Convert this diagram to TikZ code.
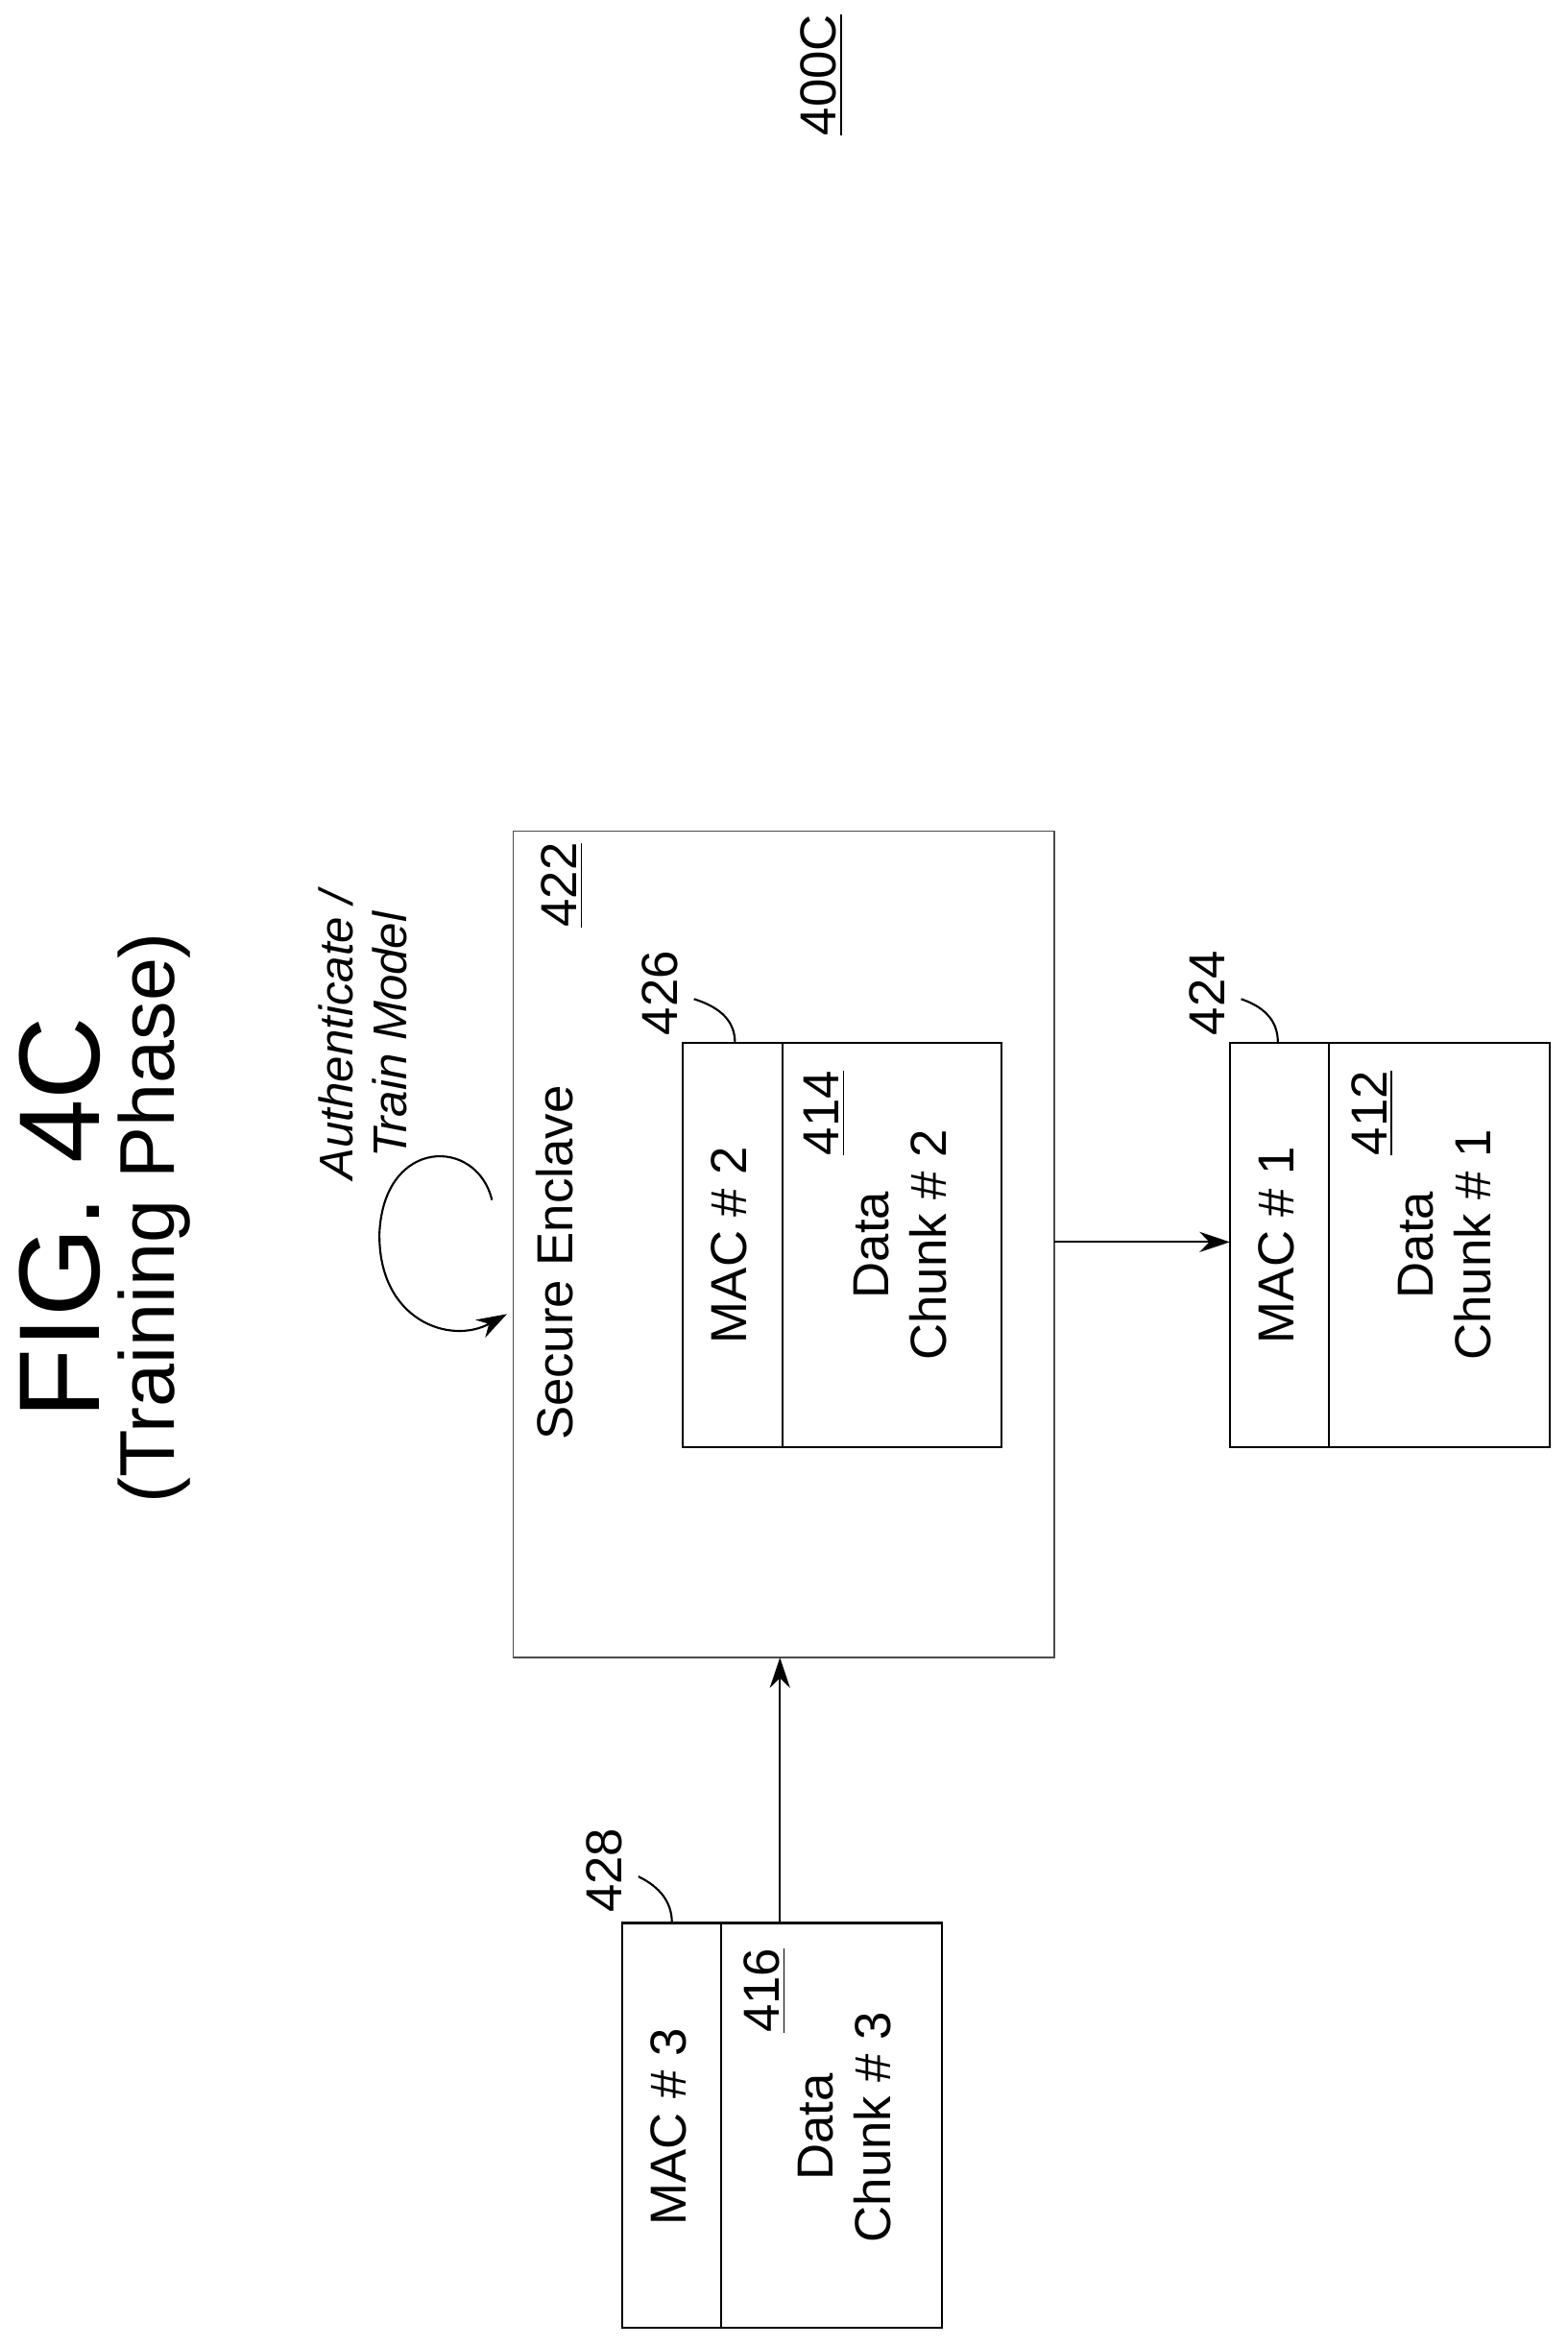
\documentclass[tikz,border=0pt]{standalone}
\usepackage{fontspec}
\setmainfont{Liberation Sans}
\usetikzlibrary{calc,positioning,arrows.meta}
\begin{document}
\begin{tikzpicture}[x=0.015617cm,y=-0.015617cm]

  \tikzstyle{lbl} = [rotate=90, font=\fontsize{15}{17}\selectfont, align=center, inner sep=1pt]
  \tikzstyle{chunk} = [draw, line width=0.6pt]
  \tikzstyle{conn} = [-{Stealth[length=9pt,width=6pt]}, line width=0.6pt]

  \useasboundingbox (0,0) rectangle (1045,1564);

  % titles
  \node[lbl] (figno) at (548,50) {\underline{400C}};
  \node[rotate=90, font=\fontsize{34}{38}\selectfont] (fig) at (40,812) {FIG. 4C};
  \node[rotate=90, font=\fontsize{23}{27}\selectfont] (phase) at (103,812) {(Training Phase)};

  % secure enclave
  \draw[line width=0.4pt, black!70] (342,554) rectangle (703,1105);
  \coordinate (encl) at (342,828);
  \coordinate (encr) at (703,828);
  \coordinate (encb) at (520,1105);
  \node[lbl] (n422) at (375,590) {\underline{422}};
  \node[lbl] (enclave) at (370,842) {Secure Enclave};
  \node[lbl, font=\itshape\fontsize{14}{16}\selectfont] (auth) at (242,690) {Authenticate /\\Train Model};
  \draw[conn] (328,800) .. controls (318,758) and (256,758) .. (253,822)
              .. controls (252,880) and (300,897) .. (338,876);

  % chunk 2
  \draw[chunk] (455,695) rectangle (668,965);
  \draw[chunk] (522,695) -- (522,965);
  \node[lbl] (mac2) at (486,830) {MAC \# 2};
  \node[lbl] (n414) at (550,742) {\underline{414}};
  \node[lbl] (data2) at (600,830) {Data\\Chunk \# 2};
  \node[lbl] (n426) at (440,662) {426};
  \draw[line width=0.6pt] (n426.south) ++(8,4) .. controls (482,672) and (490,682) .. (490,695);

  % chunk 1
  \draw[chunk] (820,695) rectangle (1033,965);
  \draw[chunk] (886,695) -- (886,965);
  \coordinate (c1l) at (820,828);
  \node[lbl] (mac1) at (851,830) {MAC \# 1};
  \node[lbl] (n412) at (915,742) {\underline{412}};
  \node[lbl] (data1) at (963,830) {Data\\Chunk \# 1};
  \node[lbl] (n424) at (805,662) {424};
  \draw[line width=0.6pt] (n424.south) ++(8,4) .. controls (845,672) and (852,682) .. (852,695);

  % chunk 3
  \draw[chunk] (415,1282) rectangle (628,1552);
  \draw[chunk] (481,1282) -- (481,1552);
  \coordinate (c3t) at (520,1282);
  \node[lbl] (mac3) at (446,1418) {MAC \# 3};
  \node[lbl] (n416) at (510,1327) {\underline{416}};
  \node[lbl] (data3) at (563,1418) {Data\\Chunk \# 3};
  \node[lbl] (n428) at (403,1247) {428};
  \draw[line width=0.6pt] (n428.south) ++(8,4) .. controls (440,1258) and (448,1268) .. (448,1282);

  \draw[conn] (encr) -- (c1l);
  \draw[conn] (c3t) -- (encb);

\end{tikzpicture}
\end{document}
